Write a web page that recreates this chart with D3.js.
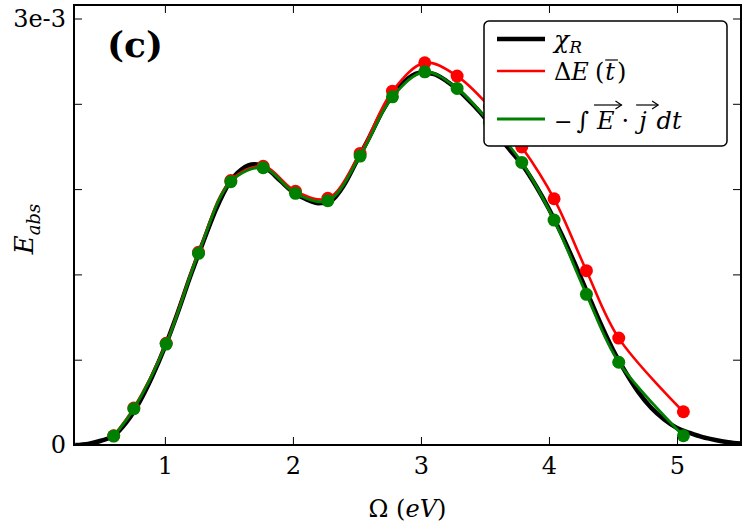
<!DOCTYPE html>
<html>
<head>
<meta charset="utf-8">
<script src="https://cdn.jsdelivr.net/npm/d3@7"></script>
<style>
  body { margin: 0; background: #fff; }
  svg text { font-family: "DejaVu Serif", serif !important; }
</style>
</head>
<body>
<div id="svg"></div>
<script>
// chi_R curve (black), in units of 1e-3
const omegaChi = [0.3, 0.4, 0.5, 0.6, 0.7, 0.8, 0.9, 1.0, 1.1, 1.2, 1.3, 1.4, 1.5, 1.6, 1.7, 1.8, 1.9, 2.0,
  2.1, 2.2, 2.3, 2.4, 2.5, 2.6, 2.7, 2.8, 2.9, 3.0, 3.1, 3.2, 3.3, 3.4, 3.5, 3.6, 3.7, 3.8, 3.9, 4.0,
  4.1, 4.2, 4.3, 4.4, 4.5, 4.6, 4.7, 4.8, 4.9, 5.0, 5.1, 5.2, 5.3, 5.4, 5.5]
const chiR = [0.0, 0.008, 0.03, 0.065, 0.16, 0.3, 0.48, 0.69, 0.93, 1.19, 1.43, 1.66, 1.84, 1.94, 1.975, 1.94, 1.86, 1.78,
  1.73, 1.70, 1.72, 1.83, 2.0, 2.17, 2.35, 2.49, 2.58, 2.62, 2.61, 2.56, 2.49, 2.40, 2.30, 2.18, 2.07, 1.96, 1.82, 1.66,
  1.48, 1.28, 1.07, 0.86, 0.67, 0.51, 0.37, 0.26, 0.18, 0.12, 0.085, 0.055, 0.035, 0.02, 0.01]

// sampled points (red and green markers)
const omegaMarks = [0.6, 0.7575, 1.01, 1.2625, 1.515, 1.7675, 2.02, 2.2725, 2.525, 2.7775, 3.03, 3.2825,
  3.535, 3.7875, 4.04, 4.2925, 4.545, 5.05]
const deltaE = [0.065, 0.26, 0.715, 1.355, 1.86, 1.96, 1.785, 1.735, 2.051, 2.489, 2.688, 2.595,
  2.38, 2.096, 1.732, 1.226, 0.752, 0.234]
const workEJ = [0.063, 0.255, 0.71, 1.348, 1.852, 1.95, 1.77, 1.718, 2.032, 2.449, 2.625, 2.508,
  2.27, 1.988, 1.582, 1.06, 0.582, 0.065]

const xTicks = [1, 2, 3, 4, 5]
const yTicks = [0, 0.6, 1.2, 1.8, 2.4, 3.0]
const yTickLabels = {0: '0', 3: '3e-3'}

const serif = 'DejaVu Serif'

const margin = {top: 5, right: 9, bottom: 80, left: 74}
const width = 750 - margin.left - margin.right
const height = 525 - margin.top - margin.bottom

const xscale = d3.scaleLinear().domain([0.29, 5.5]).range([0, width])
const yscale = d3.scaleLinear().domain([0, 3.095]).range([height, 0])

const svg = d3.select('#svg')
  .append('svg')
    .attr('width', 750)
    .attr('height', 525)
    .attr('font-family', serif)
  .append('g')
    .attr('transform', `translate(${margin.left},${margin.top})`)

svg.append('clipPath').attr('id', 'clip')
  .append('rect').attr('width', width).attr('height', height)

const plot = svg.append('g').attr('clip-path', 'url(#clip)')

const chiLine = d3.line()
  .x((d, i) => xscale(omegaChi[i]))
  .y(d => yscale(d))
  .curve(d3.curveMonotoneX)

const markLine = d3.line()
  .x((d, i) => xscale(omegaMarks[i]))
  .y(d => yscale(d))
  .curve(d3.curveCatmullRom.alpha(0.5))

plot.append('path')
  .attr('d', chiLine(chiR))
  .attr('fill', 'none')
  .attr('stroke', '#000')
  .attr('stroke-width', 4.5)

plot.append('path')
  .attr('d', markLine(deltaE))
  .attr('fill', 'none')
  .attr('stroke', '#ff0000')
  .attr('stroke-width', 2.6)

plot.selectAll('circle.red')
  .data(deltaE)
  .enter()
  .append('circle')
    .attr('class', 'red')
    .attr('cx', (d, i) => xscale(omegaMarks[i]))
    .attr('cy', d => yscale(d))
    .attr('r', 6.5)
    .style('fill', '#ff0000')

plot.append('path')
  .attr('d', markLine(workEJ))
  .attr('fill', 'none')
  .attr('stroke', '#008000')
  .attr('stroke-width', 2.8)

plot.selectAll('circle.green')
  .data(workEJ)
  .enter()
  .append('circle')
    .attr('class', 'green')
    .attr('cx', (d, i) => xscale(omegaMarks[i]))
    .attr('cy', d => yscale(d))
    .attr('r', 6.5)
    .style('fill', '#008000')

// axes, ticks pointing inwards on all four sides
const styleAxis = g => {
  g.attr('font-family', serif)
  g.select('.domain').remove()
  g.selectAll('.tick line').attr('stroke', '#000').attr('stroke-width', 1)
  g.selectAll('.tick text').attr('fill', '#000')
    .attr('font-family', serif)
    .attr('font-size', 24)
}

svg.append('g')
  .attr('transform', `translate(0,${height})`)
  .call(d3.axisBottom(xscale).tickValues(xTicks).tickSizeInner(-8).tickSizeOuter(0).tickPadding(12)
    .tickFormat(d3.format('d')))
  .call(styleAxis)

svg.append('g')
  .call(d3.axisTop(xscale).tickValues(xTicks).tickSizeInner(-8).tickSizeOuter(0).tickFormat(''))
  .call(styleAxis)

svg.append('g')
  .call(d3.axisLeft(yscale).tickValues(yTicks).tickSizeInner(-8).tickSizeOuter(0).tickPadding(8)
    .tickFormat(d => yTickLabels[d] || ''))
  .call(styleAxis)

svg.append('g')
  .attr('transform', `translate(${width},0)`)
  .call(d3.axisRight(yscale).tickValues(yTicks).tickSizeInner(-8).tickSizeOuter(0).tickFormat(''))
  .call(styleAxis)

svg.append('rect')
  .attr('width', width)
  .attr('height', height)
  .attr('fill', 'none')
  .attr('stroke', '#000')
  .attr('stroke-width', 2)

// panel label
svg.append('text')
  .attr('x', 33)
  .attr('y', 52)
  .attr('font-size', 36)
  .attr('font-weight', 'bold')
  .text('(c)')

// axis titles
const xTitle = svg.append('text')
  .attr('x', width / 2)
  .attr('y', height + 72)
  .attr('text-anchor', 'middle')
  .attr('font-size', 24)
xTitle.append('tspan').text('Ω (')
xTitle.append('tspan').attr('font-style', 'italic').text('eV')
xTitle.append('tspan').text(')')

const yTitle = svg.append('text')
  .attr('transform', `translate(${-41},${yscale(1.52)}) rotate(-90)`)
  .attr('text-anchor', 'middle')
  .attr('font-size', 26)
  .attr('font-style', 'italic')
yTitle.append('tspan').text('E')
yTitle.append('tspan').attr('dy', 7).attr('font-size', 18).text('abs')

// legend
const legend = svg.append('g').attr('transform', `translate(${484 - margin.left},${21 - margin.top})`)
legend.append('rect')
  .attr('width', 243)
  .attr('height', 125)
  .attr('rx', 5)
  .attr('fill', '#fff')
  .attr('stroke', '#000')
  .attr('stroke-width', 1.5)

const legendRows = [
  {color: '#000', w: 4.5, y: 18},
  {color: '#ff0000', w: 2.6, y: 50},
  {color: '#008000', w: 2.8, y: 98}
]
legendRows.forEach(r => {
  legend.append('line')
    .attr('x1', 13).attr('x2', 61)
    .attr('y1', r.y).attr('y2', r.y)
    .attr('stroke', r.color)
    .attr('stroke-width', r.w)
})

// write pieces of text one after the other, return x positions
function pieces(g, x0, y, parts) {
  let x = x0
  const out = []
  parts.forEach(p => {
    const t = g.append('text')
      .attr('x', x)
      .attr('y', y + (p.dy || 0))
      .attr('font-size', p.size || 24)
      .attr('font-style', p.italic ? 'italic' : 'normal')
      .text(p.s)
    const w = t.node().getComputedTextLength()
    out.push({x: x, w: w})
    x += w + (p.gap || 0)
  })
  return out
}

pieces(legend, 70, 27, [
  {s: 'χ', italic: true, size: 25},
  {s: 'R', italic: true, size: 17, dy: 5}
])

const row2 = pieces(legend, 70, 59, [
  {s: 'Δ', size: 24},
  {s: 'E', italic: true, size: 24, gap: 6},
  {s: '(', size: 24, gap: 1},
  {s: 't', italic: true, size: 24, gap: 2},
  {s: ')', size: 24}
])
legend.append('line')
  .attr('x1', row2[3].x).attr('x2', row2[3].x + row2[3].w + 3)
  .attr('y1', 39).attr('y2', 39)
  .attr('stroke', '#000').attr('stroke-width', 1.2)

const row3 = pieces(legend, 70, 108, [
  {s: '−', size: 22, gap: 4},
  {s: '∫', italic: true, size: 24, gap: 8},
  {s: 'E', italic: true, size: 24, gap: 7},
  {s: '·', size: 24, gap: 10},
  {s: 'j', italic: true, size: 24, gap: 10},
  {s: 'dt', italic: true, size: 24}
])
// over-arrows on E and j
;[row3[2], row3[4]].forEach(p => {
  const x1 = p.x - 3, x2 = p.x + Math.max(p.w, 12) + 7, ya = 84
  legend.append('line')
    .attr('x1', x1).attr('x2', x2).attr('y1', ya).attr('y2', ya)
    .attr('stroke', '#000').attr('stroke-width', 1.2)
  legend.append('path')
    .attr('d', `M${x2 - 6},${ya - 4} L${x2},${ya} L${x2 - 6},${ya + 4}`)
    .attr('fill', 'none').attr('stroke', '#000').attr('stroke-width', 1.2)
})
</script>
</body>
</html>
